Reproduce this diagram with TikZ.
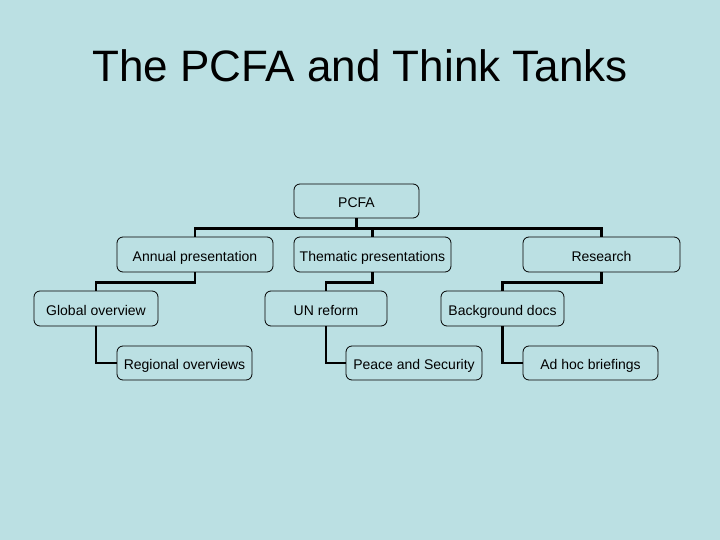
\documentclass[tikz,border=0pt]{standalone}
\usepackage{fontspec}
\setmainfont{Liberation Sans}
\usetikzlibrary{calc}
\definecolor{slideblue}{HTML}{BBE0E3}

\begin{document}
\begin{tikzpicture}[x=1pt, y=-1pt,
    box/.style={draw, rounded corners=6pt, line width=0.8pt, minimum height=35pt, inner sep=0pt,
                font=\fontsize{14}{16}\selectfont, text height=14pt, text depth=1pt},
    link/.style={line width=2.5pt},
]
% Slide background
\fill[slideblue] (0,0) rectangle (720,540);
\useasboundingbox (0,0) rectangle (720,540);

% Title
\node[anchor=base, font=\fontsize{44}{50}\selectfont] (title) at (360,82) {The PCFA and Think Tanks};

% Top
\node[box, minimum width=125pt, minimum height=34pt] (pcfa) at (356.5,201) {PCFA};

% First level
\node[box, minimum width=156pt] (annual) at (195,254.5) {Annual presentation};
\node[box, minimum width=157pt] (thematic) at (372.5,254.5) {Thematic presentations};
\node[box, minimum width=157pt] (research) at (601.5,254.5) {Research};

% Second level
\node[box, minimum width=124pt] (global) at (96,308.5) {Global overview};
\node[box, minimum width=122pt] (unreform) at (326,308.5) {UN reform};
\node[box, minimum width=123pt] (background) at (502.5,308.5) {Background docs};

% Third level
\node[box, minimum width=135pt, minimum height=34pt] (regional) at (184.5,363) {Regional overviews};
\node[box, minimum width=136pt, minimum height=34pt] (peace) at (414,363) {Peace and Security};
\node[box, minimum width=135pt, minimum height=34pt] (adhoc) at (590.5,363) {Ad hoc briefings};

% Connectors
\coordinate (bus) at ($(pcfa.south)+(0,10)$);
\draw[link] (pcfa.south) -- (bus);
\draw[link] (annual.north) |- (bus) -| (research.north);
\draw[link] (bus -| thematic.north) -- (thematic.north);

\draw[link] (annual.south) -- ++(0,10) -| (global.north);
\draw[link] (thematic.south) -- ++(0,10) -| (unreform.north);
\draw[link] (research.south) -- ++(0,10) -| (background.north);

\draw[link] (global.south) |- (regional.west);
\draw[link] (unreform.south) |- (peace.west);
\draw[link] (background.south) |- (adhoc.west);

\end{tikzpicture}
\end{document}
